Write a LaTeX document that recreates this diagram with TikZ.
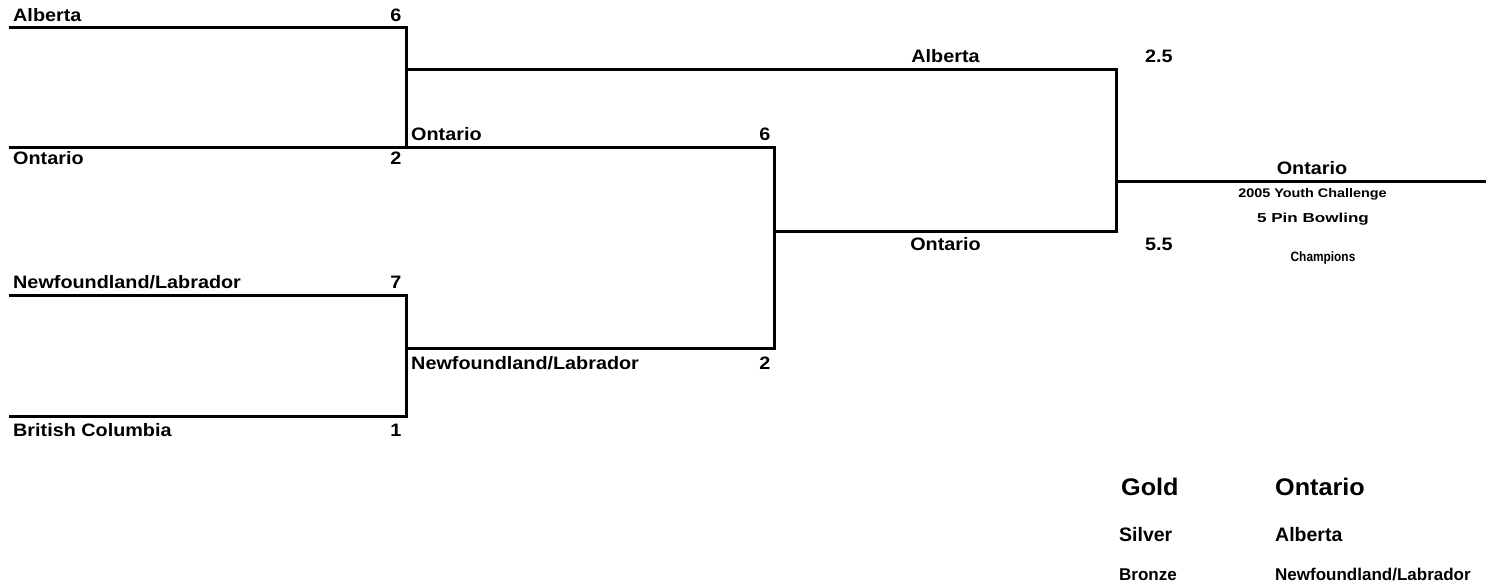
\documentclass[tikz,border=0pt]{standalone}
\usepackage{fontspec}
\setmainfont{Liberation Sans}
\newfontfamily\fbrk{Liberation Sans}[FakeStretch=1.1]
\newfontfamily\fsub{Liberation Sans}[FakeStretch=1.15]
\newfontfamily\fpin{Liberation Sans}[FakeStretch=1.31]
\newfontfamily\fchamp{Liberation Sans}[FakeStretch=0.88]
\newfontfamily\fgold{Liberation Sans}[FakeStretch=1.05]
\begin{document}
\begin{tikzpicture}[x=1pt,y=-1pt,
  wire/.style={line width=3pt, line join=miter},
  lbl/.style={inner sep=0pt, font=\fbrk\bfseries\fontsize{18}{21}\selectfont},
  sub/.style={inner sep=0pt, anchor=base, font=\fsub\bfseries\fontsize{12.5}{14}\selectfont},
  pin/.style={inner sep=0pt, anchor=base, font=\fpin\bfseries\fontsize{13}{15}\selectfont},
  champ/.style={inner sep=0pt, anchor=base, font=\fchamp\bfseries\fontsize{13.5}{15}\selectfont},
  gold/.style={inner sep=0pt, anchor=base west, font=\fgold\bfseries\fontsize{24}{28}\selectfont},
  silver/.style={inner sep=0pt, anchor=base west, font=\bfseries\fontsize{19.5}{22}\selectfont},
  bronze/.style={inner sep=0pt, anchor=base west, font=\bfseries\fontsize{17}{20}\selectfont},
  L/.style={lbl, anchor=base west},
  R/.style={lbl, anchor=base east},
  C/.style={lbl, anchor=base}]
\useasboundingbox (0,0) rectangle (1486,587);
% bracket coordinates
\coordinate (a0) at (9,27);   \coordinate (a1) at (406,27);
\coordinate (o0) at (9,147);  \coordinate (o1) at (406,147); \coordinate (o2) at (774,147);
\coordinate (n0) at (9,295);  \coordinate (n1) at (406,295);
\coordinate (b0) at (9,416);  \coordinate (b1) at (406,416);
\coordinate (m1) at (406,348); \coordinate (m2) at (774,348);
\coordinate (s0) at (406,69);  \coordinate (s1) at (1116,69);
\coordinate (t0) at (774,231); \coordinate (t1) at (1116,231);
\coordinate (f0) at (1116,181.5); \coordinate (f1) at (1486,181.5);
% wires
\draw[wire] (a0) -- (a1) -- (o1);
\draw[wire] (o0) -- (o2) -- (m2) -- (m1);
\draw[wire] (n0) -- (n1) -- (b1) -- (b0);
\draw[wire] (s0) -- (s1) -- (t1) -- (t0);
\draw[wire] (f0) -- (f1);
% round 1
\node[L] (t1a) at (13,21) {Alberta};
\node[R] (s1a) at (401.5,21) {6};
\node[L] (t1b) at (13,164) {Ontario};
\node[R] (s1b) at (401.5,164) {2};
\node[L] (t1c) at (13,288.5) {Newfoundland/Labrador};
\node[R] (s1c) at (401.5,288.5) {7};
\node[L] (t1d) at (13,436) {British Columbia};
\node[R] (s1d) at (401.5,436) {1};
% round 2
\node[L] (t2a) at (411,140) {Ontario};
\node[R] (s2a) at (770.5,140) {6};
\node[L] (t2b) at (411,369) {Newfoundland/Labrador};
\node[R] (s2b) at (770.5,369) {2};
% round 3
\node[C] (t3a) at (945.5,62.5) {Alberta};
\node[L] (s3a) at (1145,62.5) {2.5};
\node[C] (t3b) at (945.5,250.5) {Ontario};
\node[L] (s3b) at (1145,250.5) {5.5};
% final
\node[C] (win) at (1312,174) {Ontario};
\node[sub] (ev1) at (1312.5,197) {2005 Youth Challenge};
\node[pin] (ev2) at (1313,222) {5 Pin Bowling};
\node[champ] (ev3) at (1323,261) {Champions};
% medals
\node[gold] (mg) at (1121,495) {Gold};
\node[gold] (mgt) at (1275,495) {Ontario};
\node[silver] (ms) at (1119,541.5) {Silver};
\node[silver] (mst) at (1275,541.5) {Alberta};
\node[bronze] (mb) at (1119,580) {Bronze};
\node[bronze] (mbt) at (1275,580) {Newfoundland/Labrador};
\end{tikzpicture}
\end{document}
